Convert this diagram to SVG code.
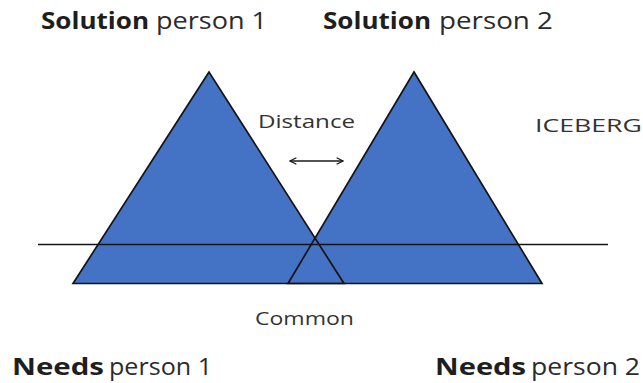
<svg xmlns="http://www.w3.org/2000/svg" width="643" height="383" viewBox="0 0 643 383">
<style>
.tri{fill:#4472C4;stroke:none}
.edge{fill:none;stroke:#141414;stroke-width:1.7;stroke-linejoin:miter}
.lbl{font-family:"Open Sans","DejaVu Sans",sans-serif;fill:#2b2b2b}
.big{font-size:23px}
.b{font-weight:bold;fill:#1e1e1e}
.sm{font-size:19px;fill:#333}
</style>
<defs>
<marker id="ah" viewBox="0 0 10 10" refX="9" refY="5" markerWidth="8" markerHeight="8" orient="auto-start-reverse" markerUnits="userSpaceOnUse">
<path d="M1,1 L9,5 L1,9" fill="none" stroke="#1a1a1a" stroke-width="1.6"/>
</marker>
</defs>
<rect width="643" height="383" fill="#ffffff"/>
<g id="triangle-person1">
<polygon class="tri" points="209,72 73,283.5 344,283.5"/>
</g>
<g id="triangle-person2">
<polygon class="tri" points="414,72 288,283.5 542,283.5"/>
</g>
<g id="outlines">
<polygon class="edge" points="209,72 73,283.5 344,283.5"/>
<polygon class="edge" points="414,72 288,283.5 542,283.5"/>
</g>
<g id="connectors">
<line x1="38" y1="244.5" x2="608" y2="244.5" stroke="#141414" stroke-width="1.7"/>
<line x1="290" y1="161" x2="343" y2="161" stroke="#1a1a1a" stroke-width="1.6" marker-start="url(#ah)" marker-end="url(#ah)"/>
</g>
<g id="label-solution1">
<text class="lbl big b" x="41" y="29" textLength="108" lengthAdjust="spacingAndGlyphs">Solution</text>
<text class="lbl big" x="156" y="29" textLength="111" lengthAdjust="spacingAndGlyphs">person 1</text>
</g>
<g id="label-solution2">
<text class="lbl big b" x="323" y="29" textLength="108" lengthAdjust="spacingAndGlyphs">Solution</text>
<text class="lbl big" x="439" y="29" textLength="114" lengthAdjust="spacingAndGlyphs">person 2</text>
</g>
<g id="label-distance">
<text class="lbl sm" x="258" y="128" textLength="97" lengthAdjust="spacingAndGlyphs">Distance</text>
</g>
<g id="label-iceberg">
<text class="lbl sm" x="535" y="132" textLength="107" lengthAdjust="spacingAndGlyphs" font-size="20">ICEBERG</text>
</g>
<g id="label-common">
<text class="lbl sm" x="255" y="325" textLength="99" lengthAdjust="spacingAndGlyphs">Common</text>
</g>
<g id="label-needs1">
<text class="lbl big b" x="12" y="375" textLength="92" lengthAdjust="spacingAndGlyphs">Needs</text>
<text class="lbl big" x="109" y="375" textLength="103" lengthAdjust="spacingAndGlyphs">person 1</text>
</g>
<g id="label-needs2">
<text class="lbl big b" x="435" y="375" textLength="91" lengthAdjust="spacingAndGlyphs">Needs</text>
<text class="lbl big" x="531" y="375" textLength="109" lengthAdjust="spacingAndGlyphs">person 2</text>
</g>
</svg>
